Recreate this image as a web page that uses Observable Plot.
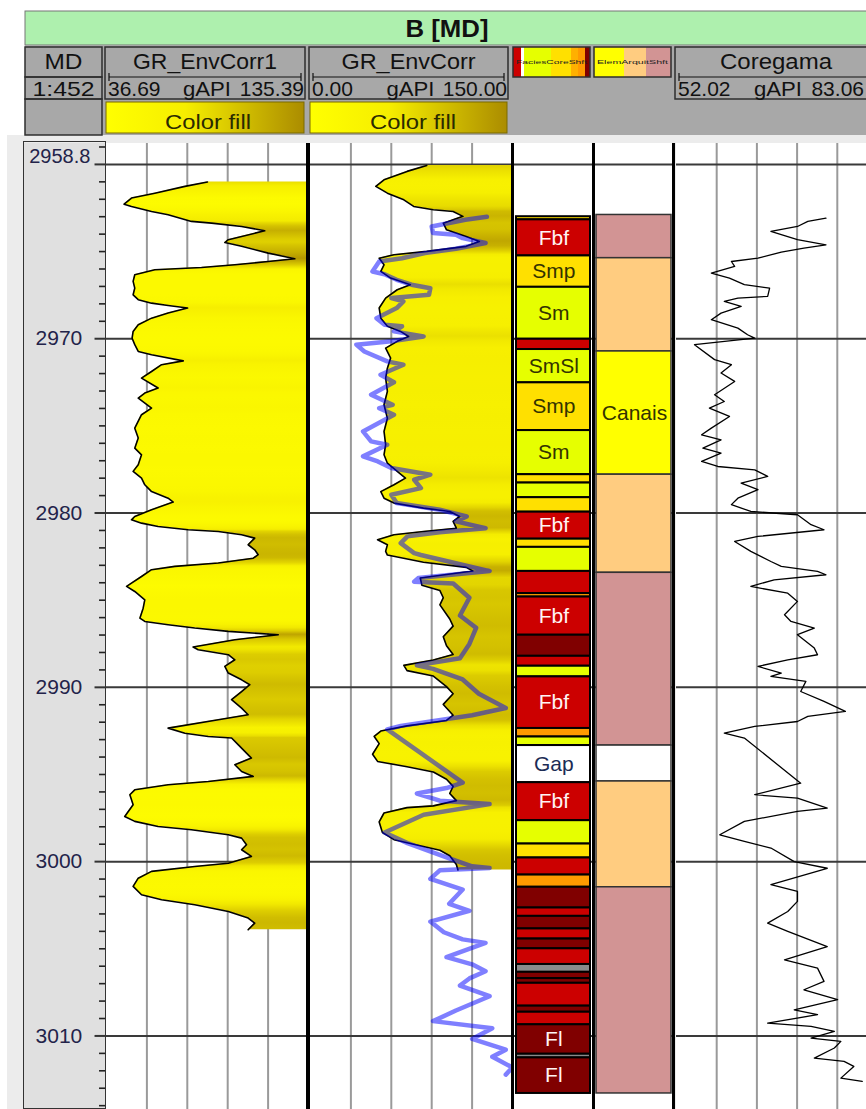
<!DOCTYPE html>
<html><head><meta charset="utf-8">
<script src="https://cdn.jsdelivr.net/npm/d3@7"></script>
<script src="https://cdn.jsdelivr.net/npm/@observablehq/plot@0.6"></script>
<style>
body{margin:0;background:#fff;}
#wrap{position:relative;width:866px;height:1109px;overflow:hidden;font-family:"Liberation Sans",Arial,sans-serif;}
</style></head><body><div id="wrap"></div>
<script>
// ---------------- DATA ----------------
const wellName = "B [MD]";
const depthScaleLabel = "1:452";
const depthView = [2958.8, 3014.22];
const majorDepths = [2960, 2970, 2980, 2990, 3000, 3010];
const GR1_SCALE = [36.69, 135.39];
const GR2_SCALE = [0, 150];
const CORE_SCALE = [52.02, 83.06];

// GR_EnvCorr1 : [depth, gAPI]
const grEnvCorr1 = [[2961.01,86.0],[2961.26,75.0],[2961.65,60.3],[2961.93,48.9],[2962.28,45.3],[2962.41,48.9],[2962.70,58.7],[2962.89,66.8],[2963.27,78.2],[2963.37,88.0],[2963.56,102.7],[2963.81,114.0],[2964.32,96.2],[2964.48,94.5],[2964.70,102.7],[2965.09,115.7],[2965.41,128.7],[2965.57,115.7],[2965.76,99.4],[2965.91,83.1],[2966.04,60.3],[2966.33,50.5],[2966.71,49.7],[2967.10,50.5],[2967.48,49.7],[2967.76,52.2],[2967.96,58.7],[2968.09,66.8],[2968.24,76.3],[2968.53,66.8],[2968.82,58.7],[2969.20,52.2],[2969.58,49.7],[2969.97,49.2],[2970.34,50.5],[2970.73,52.2],[2970.92,58.7],[2971.27,74.2],[2971.49,63.6],[2971.88,58.7],[2972.26,53.8],[2972.83,61.9],[2973.12,55.4],[2973.41,52.2],[2973.98,58.7],[2974.36,53.8],[2975.13,50.5],[2975.70,52.2],[2976.28,50.5],[2976.66,53.8],[2977.23,52.2],[2977.61,49.7],[2978.00,53.8],[2978.38,55.4],[2978.77,58.7],[2979.15,66.8],[2979.37,69.3],[2979.81,58.7],[2980.20,50.5],[2980.39,48.9],[2980.58,53.8],[2980.77,61.9],[2980.96,76.6],[2981.06,91.3],[2981.25,102.7],[2981.44,109.1],[2981.82,105.9],[2982.11,109.1],[2982.39,110.8],[2982.59,108.4],[2982.87,91.3],[2983.06,70.1],[2983.25,58.7],[2983.64,53.8],[2984.02,48.9],[2984.21,46.5],[2984.50,50.5],[2984.98,55.4],[2985.46,54.6],[2986.03,53.0],[2986.22,55.4],[2986.41,66.8],[2986.60,79.8],[2986.79,96.2],[2986.98,120.6],[2987.27,99.4],[2987.69,79.0],[2987.84,81.5],[2988.13,96.2],[2988.42,99.4],[2988.80,94.5],[2989.18,96.2],[2989.57,102.7],[2989.85,106.7],[2990.24,102.7],[2990.71,97.8],[2991.19,102.7],[2991.57,105.9],[2991.86,91.3],[2992.34,66.8],[2992.63,75.0],[2992.82,86.4],[2992.91,97.8],[2993.29,101.0],[2994.06,107.5],[2994.44,99.4],[2994.83,102.7],[2995.11,108.4],[2995.40,86.4],[2995.59,66.8],[2995.88,50.5],[2996.16,48.1],[2996.74,49.7],[2997.41,45.6],[2997.69,50.5],[2997.98,61.9],[2998.17,78.2],[2998.46,96.2],[2998.65,102.7],[2999.03,105.1],[2999.32,102.7],[2999.70,107.5],[3000.09,96.2],[3000.28,79.8],[3000.56,58.7],[3000.95,52.2],[3001.42,49.7],[3001.90,53.8],[3002.19,63.6],[3002.47,79.8],[3002.86,96.2],[3003.24,105.9],[3003.53,109.1],[3003.91,105.9]];

// GR_EnvCorr : [depth, gAPI]
const grEnvCorr = [[2960.06,86.3],[2960.40,71.7],[2960.88,54.6],[2961.26,48.5],[2961.65,57.1],[2962.03,69.3],[2962.41,76.6],[2962.60,91.2],[2962.70,105.9],[2962.98,113.2],[2963.37,98.6],[2963.75,101.0],[2964.13,115.6],[2964.42,125.4],[2964.70,115.6],[2964.99,86.3],[2965.18,62.0],[2965.38,51.0],[2965.76,54.6],[2966.14,52.2],[2966.52,59.5],[2966.90,74.1],[2967.19,64.4],[2967.67,55.8],[2968.24,51.0],[2968.82,52.2],[2969.29,57.1],[2969.58,66.8],[2969.87,72.9],[2970.15,64.4],[2970.54,55.8],[2971.11,59.5],[2971.69,57.1],[2972.26,55.8],[2973.02,57.1],[2973.79,54.6],[2974.56,57.1],[2975.32,54.6],[2976.08,55.8],[2976.66,54.6],[2977.14,57.1],[2977.61,64.4],[2978.00,70.5],[2978.38,62.0],[2978.77,52.2],[2979.15,54.6],[2979.43,62.0],[2979.72,83.9],[2979.91,103.4],[2980.20,110.7],[2980.48,105.9],[2980.87,108.3],[2981.06,83.9],[2981.25,62.0],[2981.53,49.8],[2981.82,57.1],[2982.20,55.8],[2982.41,57.1],[2982.82,83.9],[2983.12,115.6],[2983.33,120.5],[2983.53,101.0],[2983.73,81.5],[2984.14,82.7],[2984.45,96.1],[2984.86,98.6],[2985.27,96.1],[2986.08,103.4],[2986.49,105.9],[2987.10,98.6],[2987.61,101.0],[2988.12,105.9],[2988.43,91.2],[2988.74,69.3],[2989.04,71.7],[2989.35,91.2],[2989.96,101.0],[2990.37,105.9],[2990.98,98.6],[2991.60,105.9],[2991.90,101.0],[2992.21,71.7],[2992.51,52.2],[2992.82,47.3],[2993.23,51.0],[2993.84,46.1],[2994.25,49.8],[2994.56,71.7],[2994.86,91.2],[2995.27,101.0],[2995.68,105.9],[2996.09,103.4],[2996.50,108.3],[2996.80,91.2],[2996.90,71.7],[2997.21,54.6],[2997.72,51.0],[2998.33,53.4],[2998.74,62.0],[2999.05,79.0],[2999.35,96.1],[2999.66,103.4],[3000.17,108.3],[3000.48,109.5]];

// Core gamma (shifted) overlay in GR_EnvCorr track : [depth, gAPI]
const coreGammaShift = [[2963.00,131],[2963.17,115],[2963.56,90],[2963.94,91],[2964.03,108],[2964.23,113],[2964.51,130],[2964.84,108],[2965.09,85],[2965.38,68],[2965.57,51],[2966.14,46],[2966.30,55],[2966.62,64],[2966.90,75],[2967.10,89],[2967.48,88],[2967.67,60],[2967.86,69],[2968.24,64],[2968.82,49],[2969.20,55],[2969.29,68],[2969.58,62],[2969.87,84],[2970.15,60],[2970.34,34],[2970.73,40],[2971.30,57],[2971.49,69],[2972.07,52],[2972.50,62],[2973.21,45],[2973.79,61],[2973.98,51],[2974.36,62],[2975.32,39],[2975.89,45],[2976.08,57],[2976.75,39],[2977.04,50],[2977.42,60],[2977.80,89],[2978.09,77],[2978.57,82],[2978.95,60],[2979.43,64],[2979.81,96],[2980.20,116],[2980.48,108],[2980.87,130],[2981.10,96],[2981.34,72],[2981.73,67],[2982.30,77],[2982.41,82],[2983.33,133],[2983.73,80],[2983.94,77],[2984.04,106],[2984.86,118],[2985.88,111],[2986.59,123],[2987.51,118],[2988.33,111],[2988.74,79],[2988.94,91],[2989.55,113],[2990.37,125],[2991.19,145],[2991.60,120],[2992.21,67],[2992.41,57],[2995.47,113],[2995.78,101],[2996.09,79],[2996.50,96],[2996.70,133],[2997.31,84],[2998.33,55],[2998.94,72],[2999.76,101],[3000.27,120],[3000.37,133],[3000.50,96],[3000.99,89],[3001.60,113],[3002.42,103],[3002.82,118],[3003.44,89],[3004.05,99],[3004.46,113],[3004.66,130],[3005.48,101],[3005.89,120],[3006.29,130],[3006.70,118],[3007.11,111],[3007.72,133],[3008.54,108],[3009.15,91],[3009.56,135],[3010.17,120],[3010.79,145],[3011.20,135],[3011.81,150],[3012.22,145]];

// Coregama : [depth, gAPI]
const coregama = [[2963.08,75.1],[2963.27,72.3],[2963.56,70.7],[2963.84,66.6],[2964.03,68.2],[2964.32,70.7],[2964.61,75.1],[2964.80,71.7],[2965.03,68.2],[2965.38,64.6],[2965.57,60.5],[2965.85,61.0],[2966.24,57.4],[2966.52,60.2],[2966.90,62.5],[2967.10,66.4],[2967.57,66.1],[2967.67,61.5],[2967.86,59.4],[2968.15,62.0],[2968.53,58.9],[2968.91,57.4],[2969.39,61.5],[2969.77,63.0],[2969.97,64.1],[2970.34,54.8],[2971.20,57.9],[2971.49,60.5],[2971.97,58.9],[2972.45,61.0],[2973.21,57.9],[2973.60,59.4],[2973.98,57.1],[2974.46,60.2],[2975.13,57.4],[2975.51,55.9],[2975.80,58.9],[2976.28,56.1],[2976.56,58.9],[2977.04,55.9],[2977.33,58.4],[2977.52,64.1],[2977.90,66.1],[2978.28,62.0],[2978.66,64.6],[2979.15,61.5],[2979.52,60.5],[2979.91,63.5],[2980.10,70.7],[2980.67,72.8],[2980.96,74.8],[2981.34,64.6],[2981.63,61.0],[2982.20,63.5],[2982.78,66.6],[2983.06,68.2],[2983.35,73.8],[2983.54,75.1],[2983.83,67.1],[2984.21,63.5],[2984.60,69.2],[2985.07,70.7],[2985.84,68.7],[2986.22,69.7],[2986.60,73.3],[2986.98,70.7],[2987.75,73.3],[2988.13,73.8],[2988.42,69.2],[2988.80,64.6],[2989.18,68.2],[2989.37,66.6],[2989.66,72.0],[2990.24,71.2],[2990.81,74.8],[2991.38,78.1],[2991.67,72.3],[2991.96,70.7],[2992.24,64.1],[2992.63,59.4],[2992.91,62.5],[2995.50,71.2],[2996.16,64.1],[2996.36,70.7],[2996.93,75.3],[2997.12,70.7],[2997.69,62.5],[2998.46,58.7],[2998.84,62.5],[2999.22,66.6],[3000.00,70.2],[3000.38,75.3],[3001.32,66.6],[3001.71,70.7],[3002.28,70.7],[3002.86,69.2],[3003.53,66.1],[3004.00,69.2],[3004.87,75.3],[3005.63,68.7],[3006.11,73.8],[3006.87,74.8],[3007.35,71.7],[3007.92,76.9],[3008.50,70.2],[3008.78,73.8],[3009.26,66.1],[3009.45,72.8],[3009.74,76.4],[3010.12,72.8],[3010.31,77.4],[3010.69,76.4],[3011.27,73.3],[3011.46,77.9],[3011.75,79.4],[3012.42,77.4],[3012.61,80.7]];

// Core facies (FaciesCoreShft): interval boundaries and codes
const faciesBounds = [2963.00,2963.18,2965.25,2967.05,2970.03,2970.62,2972.53,2975.27,2977.80,2978.28,2979.12,2979.95,2981.50,2981.97,2983.35,2984.62,2984.82,2987.01,2988.22,2988.79,2989.40,2992.36,2992.85,2993.34,2995.47,2997.65,2998.99,2999.79,3000.77,3001.47,3002.66,3003.14,3003.86,3004.44,3005.00,3005.90,3006.35,3006.71,3006.98,3008.29,3008.64,3009.36,3011.05,3011.26,3013.30];
const faciesCode = ["Smp","Fbf","Smp","Sm","Fbf","SmSl","Smp","Sm","Smp","Sm","Smp","Fbf","Smp","Sm","Fbf","Sh","Fbf","Fl","Fbf","Sm","Fbf","Sh","Sm","Gap","Fbf","Sm","Smp","Fbf","Sh","Fl","Fbf","Fl","Fbf","Fl","Fbf","Ft","Fl","Fl","Fbf","Fl","Fbf","Fl","Ft","Fl"];

// Architectural elements (ElemArquitShft)
const elemBounds = [2962.90,2965.38,2970.73,2977.80,2983.43,2993.34,2995.40,3001.47,3013.30];
const elemCode = ["Planície","Barra","Canais","Barra","Planície","Gap","Barra","Planície"];
const elemLabelled = ["Canais"];

// ---------------- STYLE ----------------
const FONT = '"Liberation Sans", Arial, sans-serif';
const H = 966, TOP = 143;
const faciesColors = {Fbf:"#cc0000", Smp:"#ffe000", Sm:"#e6ff00", SmSl:"#e6ff00", Fl:"#800000", Sh:"#ff9a00", Ft:"#8a8a8a", Gap:"#ffffff"};
const faciesText = {Fbf:"#fff4f4", Fl:"#fff4f4", Gap:"#1c2c55"};
const elemColors = {"Planície":"#d29494", "Barra":"#ffcc80", "Canais":"#ffff00", "Gap":"#ffffff"};
const ramp = d3.scaleLinear().domain([0, 0.4, 1]).range(["#ffff00", "#f6ee00", "#ab8c00"]).clamp(true);

const wrap = document.getElementById("wrap");
function addDiv(l, t, w, h, css) {
  const d = document.createElement("div");
  d.style.cssText = `position:absolute;left:${l}px;top:${t}px;width:${w}px;height:${h}px;${css || ""}`;
  wrap.appendChild(d); return d;
}
function addPlot(plot, l, w) { const d = addDiv(l, TOP, w, H, "overflow:hidden;"); d.appendChild(plot); return plot; }
const rows = arr => arr.map(([d, v]) => ({d, v}));
const intervals = (b, c) => c.map((code, i) => ({top: b[i], base: b[i + 1], code}));
const gridVals = ([lo, hi]) => [1, 2, 3, 4].map(k => lo + k * (hi - lo) / 5);

function track(width, xDomain, background, marks) {
  return Plot.plot({
    width, height: H, margin: 0,
    x: {domain: xDomain, axis: null},
    y: {domain: depthView, reverse: true, axis: null},
    color: {type: "identity"},
    style: {background, fontFamily: FONT, overflow: "hidden"},
    marks
  });
}
function addVerticalGradient(svg, id, data, [lo, hi]) {
  const y = svg.scale("y").apply;
  const y0 = y(data[0].d), y1 = y(data[data.length - 1].d);
  const g = d3.select(svg).insert("defs", ":first-child").append("linearGradient")
    .attr("id", id).attr("gradientUnits", "userSpaceOnUse")
    .attr("x1", 0).attr("x2", 0).attr("y1", y0).attr("y2", y1);
  data.forEach(r => g.append("stop").attr("offset", (y(r.d) - y0) / (y1 - y0))
    .attr("stop-color", ramp((r.v - lo) / (hi - lo))));
}

// background frame
addDiv(7, 135, 859, 974, "background:#ececec;");

// ---------------- MD TRACK ----------------
const minorDepths = d3.range(Math.ceil(depthView[0]), Math.floor(depthView[1]) + 1).filter(d => !majorDepths.includes(d));
addPlot(track(82, [0, 1], "#e0e0e0", [
  Plot.ruleY(minorDepths, {y: d => d, x1: 0.915, x2: 1, stroke: "#222", strokeWidth: 1.6}),
  Plot.ruleY(majorDepths, {y: d => d, x1: 0.86, x2: 1, stroke: "#333", strokeWidth: 2}),
  Plot.text(majorDepths.filter(d => d > majorDepths[0]), {y: d => d, x: 0.42, text: d => String(d), fontSize: 21, fill: "#23234a"}),
  Plot.text([depthView[0]], {y: d => d, x: 0.43, text: d => d.toFixed(1), lineAnchor: "top", dy: 5, fontSize: 20, fill: "#23234a"})
]), 24, 82);
addDiv(23, 141, 83, 968, "border:1.5px solid #333;box-sizing:border-box;");

// ---------------- GR_EnvCorr1 ----------------
const gr1 = rows(grEnvCorr1);
const p1 = addPlot(track(202, GR1_SCALE, "white", [
  Plot.ruleX(gridVals(GR1_SCALE), {stroke: "#9a9a9a", strokeWidth: 2}),
  Plot.ruleY(majorDepths, {stroke: "#3a3a3a", strokeWidth: 2}),
  Plot.areaX(gr1, {x1: "v", x2: () => GR1_SCALE[1], y: "d", fill: "url(#fillGR1)"}),
  Plot.lineX(gr1, {x: "v", y: "d", stroke: "black", strokeWidth: 1.6})
]), 106, 202);
addVerticalGradient(p1, "fillGR1", gr1, GR1_SCALE);

// ---------------- GR_EnvCorr ----------------
const gr2 = rows(grEnvCorr);
const cgs = rows(coreGammaShift);
const p2 = addPlot(track(202, GR2_SCALE, "white", [
  Plot.ruleX(gridVals(GR2_SCALE), {stroke: "#9a9a9a", strokeWidth: 2}),
  Plot.ruleY(majorDepths, {stroke: "#3a3a3a", strokeWidth: 2}),
  Plot.areaX(gr2, {x1: "v", x2: () => GR2_SCALE[1], y: "d", fill: "url(#fillGR2)"}),
  Plot.lineX(gr2, {x: "v", y: "d", stroke: "black", strokeWidth: 1.6}),
  Plot.lineX(cgs, {x: "v", y: "d", stroke: "#0000ff", strokeOpacity: 0.5, strokeWidth: 4.5})
]), 310, 202);
addVerticalGradient(p2, "fillGR2", gr2, GR2_SCALE);

// ---------------- FACIES ----------------
const facies = intervals(faciesBounds, faciesCode);
addPlot(track(81, [0, 1], "white", [
  Plot.ruleY(majorDepths, {stroke: "#3a3a3a", strokeWidth: 2}),
  Plot.rect(facies, {x1: 0, x2: 1, y1: "top", y2: "base", fill: d => faciesColors[d.code], stroke: "black", strokeWidth: 2, insetLeft: 4, insetRight: 3}),
  Plot.text(facies.filter(d => d.base - d.top > 1.45), {x: 0.51, y: d => (d.top + d.base) / 2, text: "code", fill: d => faciesText[d.code] || "#333300", fontSize: 21})
]), 512, 81);

// ---------------- ARCHITECTURAL ELEMENTS ----------------
const elems = intervals(elemBounds, elemCode);
addPlot(track(82, [0, 1], "white", [
  Plot.ruleY(majorDepths, {stroke: "#3a3a3a", strokeWidth: 2}),
  Plot.rect(elems, {x1: 0, x2: 1, y1: "top", y2: "base", fill: d => elemColors[d.code], stroke: "#333", strokeWidth: 1.5, insetLeft: 3, insetRight: 4}),
  Plot.text(elems.filter(d => elemLabelled.includes(d.code)), {x: 0.5, y: d => (d.top + d.base) / 2, text: "code", fill: "#333300", fontSize: 21})
]), 593, 82);

// ---------------- COREGAMA ----------------
const cg = rows(coregama);
addPlot(track(201, CORE_SCALE, "white", [
  Plot.ruleX(gridVals(CORE_SCALE), {stroke: "#9a9a9a", strokeWidth: 2}),
  Plot.ruleY(majorDepths, {stroke: "#3a3a3a", strokeWidth: 2}),
  Plot.lineX(cg, {x: "v", y: "d", stroke: "black", strokeWidth: 1.3})
]), 676, 201);

// track separators
[[306, 4], [511, 3], [592, 3], [672, 3]].forEach(([l, w]) => addDiv(l, TOP, w, H, "background:#000;"));

// ---------------- HEADER ----------------
const hdr = d3.create("svg").attr("width", 866).attr("height", 136)
  .style("position", "absolute").style("left", "0px").style("top", "0px").style("font-family", FONT);
const defs = hdr.append("defs");
const lg = defs.append("linearGradient").attr("id", "legendFill");
[[0, "#ffff00"], [0.4, "#f6ee00"], [1, "#ab8c00"]].forEach(([o, c]) => lg.append("stop").attr("offset", o).attr("stop-color", c));

hdr.append("rect").attr("x", 25).attr("y", 11).attr("width", 845).attr("height", 34).attr("fill", "#aef0ae").attr("stroke", "#777");
hdr.append("rect").attr("x", 25).attr("y", 45).attr("width", 845).attr("height", 90).attr("fill", "#a8a8a8");
function box(x, y, w, h, fill) {
  hdr.append("rect").attr("x", x).attr("y", y).attr("width", w).attr("height", h)
    .attr("fill", fill || "none").attr("stroke", "#2e2e2e").attr("stroke-width", 1.5);
}
function txt(s, x, y, size, opts = {}) {
  const t = hdr.append("text").attr("x", x).attr("y", y).attr("font-size", size)
    .attr("text-anchor", opts.anchor || "middle").attr("fill", opts.fill || "#111")
    .attr("font-weight", opts.weight || "normal").text(s);
  if (opts.len) t.attr("textLength", opts.len).attr("lengthAdjust", "spacingAndGlyphs");
  return t;
}
function scaleLine(x0, x1) {
  hdr.append("line").attr("x1", x0 + 4).attr("x2", x1 - 4).attr("y1", 77).attr("y2", 77).attr("stroke", "#111").attr("stroke-width", 1.2);
  [x0 + 4, x1 - 4].forEach(x => hdr.append("line").attr("x1", x).attr("x2", x).attr("y1", 73).attr("y2", 81).attr("stroke", "#111").attr("stroke-width", 1.2));
}
txt(wellName, 447, 37, 24, {weight: "bold", len: 83});
// MD column
box(25, 47, 77, 30); box(25, 77, 77, 22); box(25, 99, 77, 36);
txt("MD", 63.5, 69, 22, {len: 38});
txt(depthScaleLabel, 63.5, 96, 21, {len: 62});
// curve headers
function curveHeader(name, x0, x1, scale, nameLen, withFill, fillCenter, maxRight) {
  box(x0, 47, x1 - x0, 52);
  scaleLine(x0, x1);
  txt(name, (x0 + x1) / 2, 69, 22, {len: nameLen});
  txt(scale[0].toFixed(2), x0 + 3, 96, 21, {anchor: "start"});
  txt("gAPI", (x0 + x1) / 2 + 2, 96, 21, {len: 48});
  txt(scale[1].toFixed(2), Math.min(x1 - 1, maxRight || Infinity), 96, 21, {anchor: "end"});
  if (withFill) {
    hdr.append("rect").attr("x", x0 + 1).attr("y", 102).attr("width", x1 - x0 - 2).attr("height", 31)
      .attr("fill", "url(#legendFill)").attr("stroke", "#7a6a00").attr("stroke-width", 1);
    txt("Color fill", fillCenter, 129, 21, {len: 86, fill: "#2a2a00"});
  }
}
curveHeader("GR_EnvCorr1", 105, 305, GR1_SCALE, 144, true, 208);
curveHeader("GR_EnvCorr", 309, 508, GR2_SCALE, 134, true, 413);
curveHeader("Coregama", 675, 877, CORE_SCALE, 112, false, 0, 864);
// discrete track headers with colour strips
function strip(x0, w, segs, label) {
  let x = x0;
  segs.forEach(([sw, c]) => { hdr.append("rect").attr("x", x).attr("y", 47).attr("width", sw).attr("height", 30).attr("fill", c); x += sw; });
  box(x0, 47, w, 30);
  txt(label, x0 + w / 2, 64, 5.5, {fill: "#222", len: w - 6});
}
strip(513, 77, [[8, faciesColors.Fbf], [3, "#ffffff"], [27, faciesColors.Sm], [20, faciesColors.Smp], [7, "#ffb000"], [7, faciesColors.Sh], [5, faciesColors.Fl]], "FaciesCoreShft");
strip(594, 77, [[30, elemColors.Canais], [22, elemColors.Barra], [25, elemColors["Planície"]]], "ElemArquitShft");

wrap.appendChild(hdr.node());
</script>
</body></html>
